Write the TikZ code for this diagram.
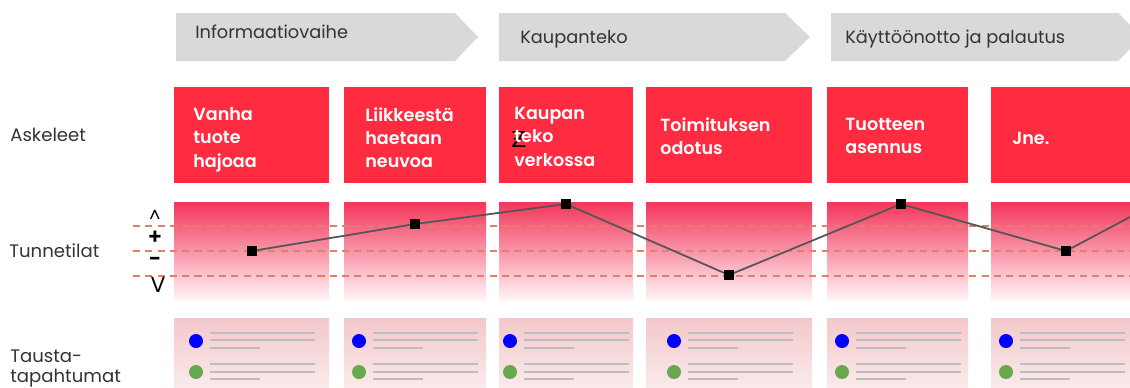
\documentclass[tikz,border=0pt]{standalone}
\usepackage{fontspec}
\setmainfont{Poppins}[BoldFont={Poppins SemiBold}]
\newfontfamily\dejavu{DejaVu Sans}
\usetikzlibrary{positioning}
\definecolor{phasegray}{HTML}{D9D9D9}
\definecolor{stepred}{HTML}{FF2B40}
\definecolor{bandred}{HTML}{F3365A}
\definecolor{bandlow}{HTML}{FFF4F6}
\definecolor{cardtop}{HTML}{F3C8CB}
\definecolor{cardlow}{HTML}{FBEEEF}
\definecolor{dashred}{HTML}{E0806C}
\definecolor{curvegray}{HTML}{555555}
\definecolor{notegray}{HTML}{BDBDBD}
\definecolor{dotblue}{HTML}{0000FF}
\definecolor{dotgreen}{HTML}{6AA84F}
\definecolor{labeltext}{HTML}{333333}
\tikzset{
  phasetext/.style={anchor=base west, inner sep=0pt, text=labeltext, font=\fontsize{10.1}{12}\selectfont},
  steptext/.style={anchor=north west, inner sep=0pt, align=left, text=white, font=\bfseries\fontsize{10}{13.3}\selectfont},
  rowlabel/.style={anchor=north west, inner sep=0pt, align=left, text=labeltext, font=\fontsize{10.3}{11.3}\selectfont},
  moodsign/.style={inner sep=0pt, text=black, font=\bfseries\fontsize{12.5}{14}\selectfont},
  moodline/.style={dashred, line width=0.7pt, dash pattern=on 4pt off 3pt},
  curve/.style={curvegray, line width=1pt},
  moodpt/.style={fill=black, minimum size=5.7pt, inner sep=0pt},
  noteline/.style={notegray, line width=0.85pt},
  bandfill/.style={top color=bandred, bottom color=bandlow},
  cardfill/.style={top color=cardtop, bottom color=cardlow}
}
\begin{document}
\begin{tikzpicture}[x=0.02cm, y=-0.02cm]
\useasboundingbox (0,0) rectangle (1130,387);
\clip (0,0) rectangle (1130,387);
% phases
\fill[phasegray] (176,13) -- (455,13) -- (478,37) -- (455,61) -- (176,61) -- cycle;
\fill[phasegray] (499,13) -- (785,13) -- (810,37) -- (785,61) -- (499,61) -- cycle;
\fill[phasegray] (831,13) -- (1118,13) -- (1142,37) -- (1118,61) -- (831,61) -- cycle;
\node[phasetext] (ph1) at (195,38) {Informaatiovaihe};
\node[phasetext] (ph2) at (520,43) {Kaupanteko};
\node[phasetext] (ph3) at (845,43) {Käyttöönotto ja palautus};
% columns
\foreach \l/\r in {174/329, 344/486, 499/633, 646/812, 827/968, 991/1140} {
  \fill[stepred] (\l,87) rectangle (\r,183);
  \shade[bandfill] (\l,202) rectangle (\r,300);
  \shade[cardfill] (\l,318) rectangle (\r,395);
}
% steps
\node[inner sep=0pt, font=\dejavu\fontsize{12.5}{13}\selectfont] (zmark) at (519,139) {Ƶ};
\node[steptext] (s1) at (193,107) {Vanha\\tuote\\hajoaa};
\node[steptext] (s2) at (365,107) {Liikkeestä\\haetaan\\neuvoa};
\node[steptext] (s3) at (514,107) {Kaupan\\teko\\verkossa};
\node[steptext] (s4) at (660,117) {Toimituksen\\odotus};
\node[steptext] (s5) at (845,118) {Tuotteen\\asennus};
\node[steptext] (s6) at (1012,132) {Jne.};
% row labels
\node[rowlabel] (askel) at (10,128) {Askeleet};
\node[rowlabel] (tunne) at (9,243) {Tunnetilat};
\node[rowlabel] (tausta) at (10,350) {Tausta-\\tapahtumat};
% mood scale
\foreach \y in {226,251,276}
  \draw[moodline] (133,\y) -- (1130,\y);
\node[moodsign, font=\fontsize{10}{12}\selectfont] (mtop) at (155,216) {\textasciicircum};
\node[moodsign] (mplus) at (155,238) {+};
\node[moodsign] (mminus) at (155,262) {-};
\node[moodsign, font=\fontsize{12.5}{14}\selectfont] (mlow) at (158,285) {V};
% mood curve
\coordinate (c1) at (252,251);
\coordinate (c2) at (415,224);
\coordinate (c3) at (566,204);
\coordinate (c4) at (729,275);
\coordinate (c5) at (901,204);
\coordinate (c6) at (1066,251);
\coordinate (c7) at (1130,217);
\draw[curve] (c1) -- (c2) -- (c3) -- (c4) -- (c5) -- (c6) -- (c7);
\foreach \i in {1,...,6}
  \node[moodpt] (p\i) at (c\i) {};
% background notes
\foreach \d in {196, 359, 510, 674, 842, 1006} {
  \fill[dotblue] (\d,341) circle (7);
  \fill[dotgreen] (\d,372) circle (7);
  \foreach \y in {333,340,364,372}
    \draw[noteline] (\d+14,\y) -- (\d+119,\y);
  \draw[noteline] (\d+14,348) -- (\d+64,348);
  \draw[noteline] (\d+14,379) -- (\d+64,379);
}
\end{tikzpicture}
\end{document}
